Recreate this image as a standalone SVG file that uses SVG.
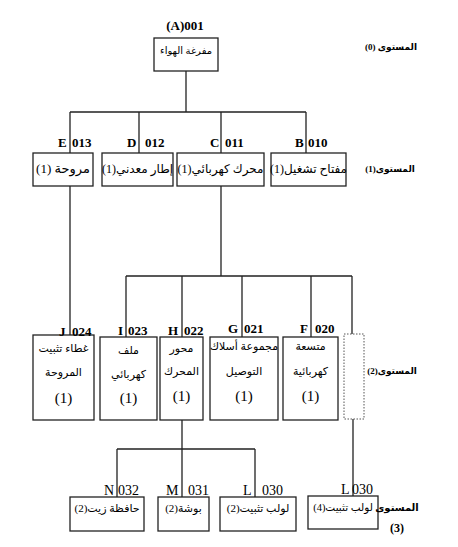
<svg xmlns="http://www.w3.org/2000/svg" width="458" height="547" viewBox="0 0 458 547">
<style>
.box{fill:#fff;stroke:#222;stroke-width:1.3}
.dash{fill:#fff;stroke:#555;stroke-width:1;stroke-dasharray:1.5 1.5}
.ln{fill:none;stroke:#222;stroke-width:1.3}
.code{font-family:"Liberation Serif",serif;font-weight:bold;font-size:13px;fill:#000}
.code3{font-family:"Liberation Serif",serif;font-size:14px;fill:#000}
.ar{font-family:"Liberation Serif","DejaVu Sans",sans-serif;fill:#000;text-anchor:middle;direction:rtl}
.lvl{font-family:"Liberation Serif","DejaVu Sans",sans-serif;font-weight:bold;fill:#000;text-anchor:middle;direction:rtl}
</style>
<g id="connectors">
<path class="ln" d="M186 71V112M70 112H306M70 112V153M139 112V153M221 112V153M306 112V153"/>
<path class="ln" d="M70 186V335M221 186V276M126 276H352M126 276V337M182 276V337M242 276V337M311 276V337M352 276V334"/>
<path class="ln" d="M182 420V497M117 449H255M117 449V497M255 449V497M353 419V496"/>
</g>
<g id="n001">
<text class="code" x="185" y="30" text-anchor="middle">(A)001</text>
<rect class="box" x="154" y="38" width="64" height="33"/>
<text class="ar" x="186" y="54" font-size="10">مفرغة الهواء</text>
</g>
<g id="lvl0"><text class="lvl" x="391" y="50" font-size="9">المستوى (0)</text></g>
<g id="n013">
<text class="code" x="58" y="147">E</text><text class="code" x="72" y="147">013</text>
<rect class="box" x="33" y="153" width="60" height="33"/>
<text class="ar" x="63" y="173" font-size="13">مروحة (1)</text>
</g>
<g id="n012">
<text class="code" x="127" y="147">D</text><text class="code" x="145" y="147">012</text>
<rect class="box" x="102" y="153" width="71" height="33"/>
<text class="ar" x="137.5" y="173" font-size="12">إطار معدني(1)</text>
</g>
<g id="n011">
<text class="code" x="210" y="147">C</text><text class="code" x="225" y="147">011</text>
<rect class="box" x="177" y="153" width="87" height="33"/>
<text class="ar" x="220.5" y="173" font-size="12">محرك كهربائي(1)</text>
</g>
<g id="n010">
<text class="code" x="295" y="147">B</text><text class="code" x="308" y="147">010</text>
<rect class="box" x="271" y="153" width="75" height="33"/>
<text class="ar" x="308.5" y="173" font-size="12">مفتاح تشغيل(1)</text>
</g>
<g id="lvl1"><text class="lvl" x="390" y="172" font-size="9">المستوى(1)</text></g>
<g id="n024">
<rect class="box" x="33" y="335" width="61" height="85"/>
<text class="code" x="59" y="336">J</text><text class="code" x="72" y="336">024</text>
<text class="ar" x="63.5" y="352" font-size="11">غطاء تثبيت</text>
<text class="ar" x="63.5" y="376" font-size="11">المروحة</text>
<text class="ar" x="63.5" y="403" font-size="15">(1)</text>
</g>
<g id="n023">
<rect class="box" x="100" y="337" width="57" height="83"/>
<text class="code" x="118" y="335">I</text><text class="code" x="128" y="335">023</text>
<text class="ar" x="128.5" y="354" font-size="11">ملف</text>
<text class="ar" x="128.5" y="378" font-size="11">كهربائي</text>
<text class="ar" x="128.5" y="403" font-size="15">(1)</text>
</g>
<g id="n022">
<rect class="box" x="160" y="337" width="43" height="83"/>
<text class="code" x="168" y="335">H</text><text class="code" x="184" y="335">022</text>
<text class="ar" x="181.5" y="352" font-size="11">محور</text>
<text class="ar" x="181.5" y="375" font-size="11">المحرك</text>
<text class="ar" x="181.5" y="401" font-size="15">(1)</text>
</g>
<g id="n021">
<rect class="box" x="210" y="337" width="68" height="83"/>
<text class="code" x="228" y="333">G</text><text class="code" x="244" y="333">021</text>
<text class="ar" x="244" y="350" font-size="11">مجموعة أسلاك</text>
<text class="ar" x="244" y="375" font-size="11">التوصيل</text>
<text class="ar" x="244" y="401" font-size="15">(1)</text>
</g>
<g id="n020">
<rect class="box" x="283" y="337" width="55" height="83"/>
<text class="code" x="300" y="333">F</text><text class="code" x="315" y="333">020</text>
<text class="ar" x="310.5" y="350" font-size="11">متسعة</text>
<text class="ar" x="310.5" y="375" font-size="11">كهربائية</text>
<text class="ar" x="310.5" y="401" font-size="15">(1)</text>
</g>
<g id="nplaceholder"><rect class="dash" x="344" y="334" width="20" height="85"/></g>
<g id="lvl2"><text class="lvl" x="392" y="374" font-size="9">المستوى(2)</text></g>
<g id="n032">
<text class="code3" x="104" y="495">N</text><text class="code3" x="118" y="495">032</text>
<rect class="box" x="70" y="497" width="74" height="34"/>
<text class="ar" x="107" y="512" font-size="11">حافظة زيت(2)</text>
</g>
<g id="n031">
<text class="code3" x="166" y="495">M</text><text class="code3" x="188" y="495">031</text>
<rect class="box" x="158" y="497" width="51" height="34"/>
<text class="ar" x="183.5" y="512" font-size="11">بوشة(2)</text>
</g>
<g id="n030a">
<text class="code3" x="243" y="495">L</text><text class="code3" x="262" y="495">030</text>
<rect class="box" x="220" y="497" width="76" height="34"/>
<text class="ar" x="258" y="512" font-size="11">لولب تثبيت(2)</text>
</g>
<g id="n030b">
<text class="code3" x="341" y="494">L</text><text class="code3" x="352" y="494">030</text>
<rect class="box" x="308" y="496" width="70" height="33"/>
<text class="ar" x="343" y="511" font-size="10.5">لولب تثبيت(4)</text>
</g>
<g id="lvl3">
<text class="lvl" x="397" y="511" font-size="10">المستوى</text>
<text class="lvl" x="397" y="532" font-size="12">(3)</text>
</g>
</svg>
